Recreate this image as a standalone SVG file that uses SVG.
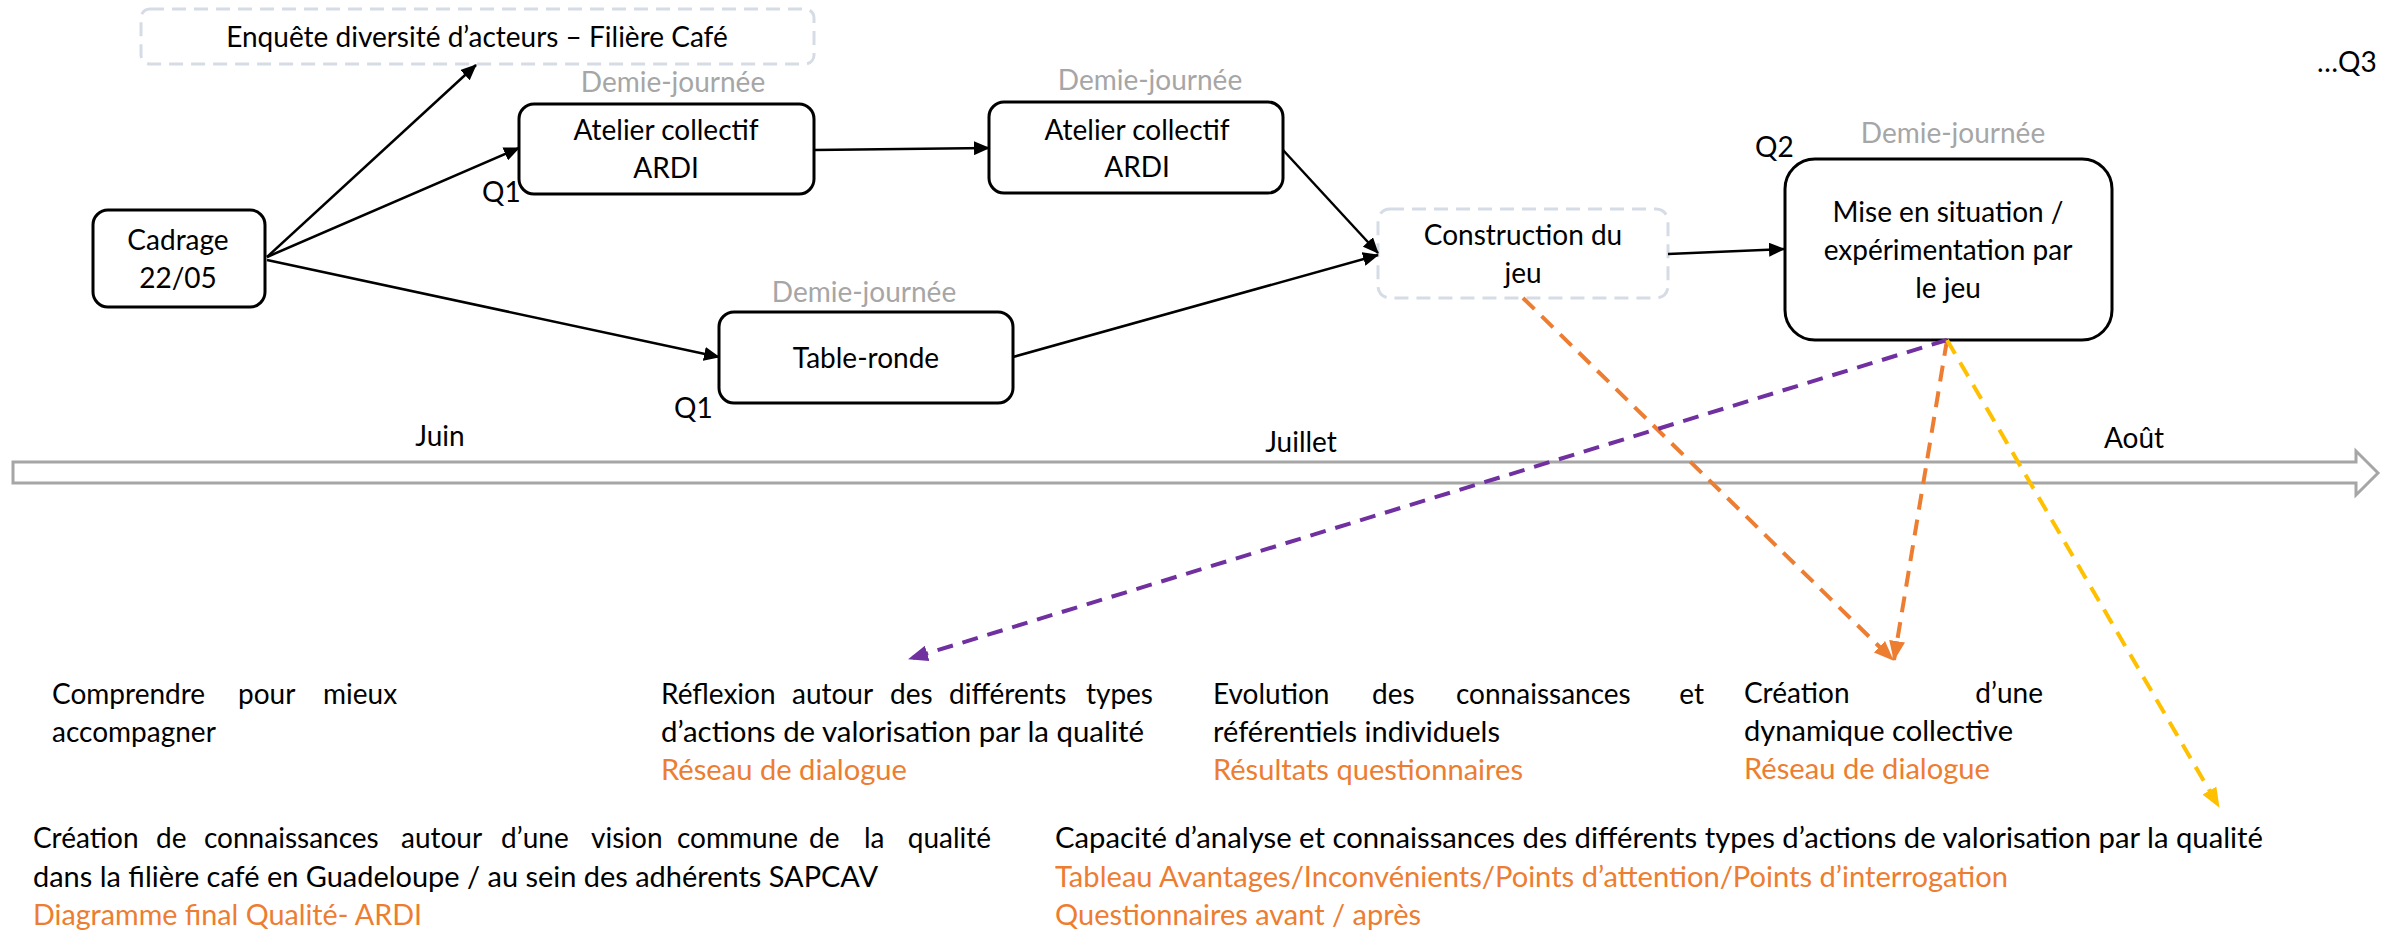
<svg xmlns="http://www.w3.org/2000/svg" width="2399" height="932" viewBox="0 0 2399 932">
<style>
.t{font-family:Lato,'Liberation Sans',sans-serif;font-size:28px;fill:#000}
.m{text-anchor:middle}
.e{text-anchor:end}
.g{fill:#A6A6A6}
.o{fill:#ED7D31}
.box{fill:#fff;stroke:#000;stroke-width:3}
.dbox{fill:#fff;stroke:#D6DCE5;stroke-width:3;stroke-dasharray:14 8}
.conn{stroke:#000;stroke-width:2.5;fill:none}
.dash{stroke-width:4;stroke-dasharray:16 10;fill:none}
</style>
<defs>
<marker id="ab" markerUnits="userSpaceOnUse" markerWidth="16" markerHeight="14" refX="15" refY="7" orient="auto"><path d="M0,0 L16,7 L0,14 Z" fill="#000"/></marker>
<marker id="ap" markerUnits="userSpaceOnUse" markerWidth="20" markerHeight="16" refX="19" refY="8" orient="auto"><path d="M0,0 L20,8 L0,16 Z" fill="#7030A0"/></marker>
<marker id="ao" markerUnits="userSpaceOnUse" markerWidth="20" markerHeight="16" refX="19" refY="8" orient="auto"><path d="M0,0 L20,8 L0,16 Z" fill="#ED7D31"/></marker>
<marker id="ay" markerUnits="userSpaceOnUse" markerWidth="20" markerHeight="16" refX="19" refY="8" orient="auto"><path d="M0,0 L20,8 L0,16 Z" fill="#FFC000"/></marker>
</defs>

<g id="timeline">
<path d="M13,462 H2356 V451 L2378,473 L2356,495 V483 H13 Z" fill="#fff" stroke="#A6A6A6" stroke-width="3"/>
<text class="t m" x="440" y="446">Juin</text>
<text class="t m" x="1301" y="452">Juillet</text>
<text class="t m" x="2134" y="448">Août</text>
</g>

<g id="enquete">
<rect class="dbox" x="141" y="9" width="673" height="55" rx="9"/>
<text class="t m" x="477" y="47">Enquête diversité d’acteurs – Filière Café</text>
</g>

<g id="cadrage">
<rect class="box" x="93" y="210" width="172" height="97" rx="15"/>
<text class="t m" x="178" y="250">Cadrage</text>
<text class="t m" x="178" y="288">22/05</text>
</g>

<g id="atelier1">
<text class="t m g" x="673" y="92">Demie-journée</text>
<rect class="box" x="519" y="104" width="295" height="90" rx="15"/>
<text class="t m" x="666" y="140">Atelier collectif</text>
<text class="t m" x="666" y="178">ARDI</text>
<text class="t" x="482" y="202">Q1</text>
</g>

<g id="atelier2">
<text class="t m g" x="1150" y="90">Demie-journée</text>
<rect class="box" x="989" y="102" width="294" height="91" rx="15"/>
<text class="t m" x="1137" y="140">Atelier collectif</text>
<text class="t m" x="1137" y="177">ARDI</text>
</g>

<g id="tableronde">
<text class="t m g" x="864" y="302">Demie-journée</text>
<rect class="box" x="719" y="312" width="294" height="91" rx="15"/>
<text class="t m" x="866" y="368">Table-ronde</text>
<text class="t" x="674" y="418">Q1</text>
</g>

<g id="construction">
<rect class="dbox" x="1378" y="209" width="290" height="89" rx="12"/>
<text class="t m" x="1523" y="245">Construction du</text>
<text class="t m" x="1523" y="283">jeu</text>
</g>

<g id="mise">
<text class="t" x="1755" y="157">Q2</text>
<text class="t m g" x="1953" y="143">Demie-journée</text>
<rect class="box" x="1785" y="159" width="327" height="181" rx="30"/>
<text class="t m" x="1948" y="222">Mise en situation /</text>
<text class="t m" x="1948" y="260">expérimentation par</text>
<text class="t m" x="1948" y="298">le jeu</text>
</g>

<g id="q3">
<text class="t" x="2317" y="72">…Q3</text>
</g>

<g id="connectors">
<line class="conn" x1="267" y1="257" x2="476" y2="65" marker-end="url(#ab)"/>
<line class="conn" x1="267" y1="257" x2="519" y2="148" marker-end="url(#ab)"/>
<line class="conn" x1="267" y1="260" x2="719" y2="357" marker-end="url(#ab)"/>
<line class="conn" x1="814" y1="150" x2="989" y2="148" marker-end="url(#ab)"/>
<line class="conn" x1="1283" y1="150" x2="1378" y2="253" marker-end="url(#ab)"/>
<line class="conn" x1="1013" y1="357" x2="1378" y2="255" marker-end="url(#ab)"/>
<line class="conn" x1="1668" y1="254" x2="1784" y2="249" marker-end="url(#ab)"/>
<line class="dash" stroke="#ED7D31" x1="1523" y1="298" x2="1893" y2="660" marker-end="url(#ao)"/>
<line class="dash" stroke="#ED7D31" x1="1947" y1="340" x2="1894" y2="660" marker-end="url(#ao)"/>
<line class="dash" stroke="#7030A0" x1="1947" y1="340" x2="909" y2="659" marker-end="url(#ap)"/>
<line class="dash" stroke="#FFC000" x1="1947" y1="340" x2="2219" y2="807" marker-end="url(#ay)"/>
</g>

<g id="outcome1">
<text class="t" y="704"><tspan x="52">Comprendre</tspan><tspan x="238">pour</tspan><tspan x="323">mieux</tspan></text>
<text class="t" x="52" y="742">accompagner</text>
</g>

<g id="outcome2">
<text class="t" y="704"><tspan x="661">Réflexion</tspan><tspan x="792">autour</tspan><tspan x="890">des</tspan><tspan x="949">différents</tspan></text>
<text class="t e" x="1153" y="704">types</text>
<text class="t" x="661" y="742" textLength="483" lengthAdjust="spacingAndGlyphs">d’actions de valorisation par la qualité</text>
<text class="t o" x="661" y="780" textLength="246" lengthAdjust="spacingAndGlyphs">Réseau de dialogue</text>
</g>

<g id="outcome3">
<text class="t" y="704"><tspan x="1213">Evolution</tspan><tspan x="1372">des</tspan><tspan x="1456">connaissances</tspan></text>
<text class="t e" x="1704" y="704">et</text>
<text class="t" x="1213" y="742" textLength="287" lengthAdjust="spacingAndGlyphs">référentiels individuels</text>
<text class="t o" x="1213" y="780" textLength="310" lengthAdjust="spacingAndGlyphs">Résultats questionnaires</text>
</g>

<g id="outcome4">
<text class="t" x="1744" y="703">Création</text>
<text class="t e" x="2043" y="703">d’une</text>
<text class="t" x="1744" y="741" textLength="269" lengthAdjust="spacingAndGlyphs">dynamique collective</text>
<text class="t o" x="1744" y="779" textLength="246" lengthAdjust="spacingAndGlyphs">Réseau de dialogue</text>
</g>

<g id="outcome5">
<text class="t" y="848"><tspan x="33">Création</tspan><tspan x="156">de</tspan><tspan x="204">connaissances</tspan><tspan x="401">autour</tspan><tspan x="501">d’une</tspan><tspan x="591">vision</tspan><tspan x="677">commune</tspan><tspan x="809">de</tspan><tspan x="864">la</tspan></text>
<text class="t e" x="991" y="848">qualité</text>
<text class="t" x="33" y="887" textLength="845" lengthAdjust="spacingAndGlyphs">dans la filière café en Guadeloupe / au sein des adhérents SAPCAV</text>
<text class="t o" x="33" y="925" textLength="389" lengthAdjust="spacingAndGlyphs">Diagramme final Qualité- ARDI</text>
</g>

<g id="outcome6">
<text class="t" x="1055" y="848" textLength="1208" lengthAdjust="spacingAndGlyphs">Capacité d’analyse et connaissances des différents types d’actions de valorisation par la qualité</text>
<text class="t o" x="1055" y="887" textLength="953" lengthAdjust="spacingAndGlyphs">Tableau Avantages/Inconvénients/Points d’attention/Points d’interrogation</text>
<text class="t o" x="1055" y="925" textLength="366" lengthAdjust="spacingAndGlyphs">Questionnaires avant / après</text>
</g>
</svg>
